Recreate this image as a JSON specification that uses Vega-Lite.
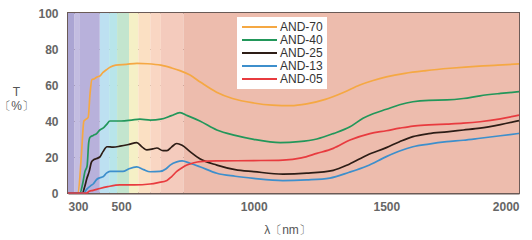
{
  "$schema": "https://vega.github.io/schema/vega-lite/v6.json",
  "width": 451,
  "height": 180,
  "autosize": {"type": "none"},
  "padding": {"left": 68, "top": 13, "right": 13, "bottom": 47},
  "background": "white",
  "config": {
    "font": "Liberation Sans",
    "view": {"stroke": "#6a5a56", "strokeWidth": 2},
    "axis": {"zindex": 1}
  },
  "datasets": {
    "bands": [
      {"band": "b01", "start": 300, "end": 325},
      {"band": "b02", "start": 325, "end": 345},
      {"band": "b03", "start": 345, "end": 420},
      {"band": "b04", "start": 420, "end": 455},
      {"band": "b05", "start": 455, "end": 485},
      {"band": "b06", "start": 485, "end": 530},
      {"band": "b07", "start": 530, "end": 565},
      {"band": "b08", "start": 565, "end": 610},
      {"band": "b09", "start": 610, "end": 650},
      {"band": "b10", "start": 650, "end": 735},
      {"band": "b11", "start": 735, "end": 2000}
    ],
    "curves": [
      {"series": "AND-70", "wl": 300, "T": 0},
      {"series": "AND-70", "wl": 338, "T": 0},
      {"series": "AND-70", "wl": 350, "T": 20},
      {"series": "AND-70", "wl": 360, "T": 40},
      {"series": "AND-70", "wl": 368, "T": 41},
      {"series": "AND-70", "wl": 376, "T": 42},
      {"series": "AND-70", "wl": 383, "T": 55},
      {"series": "AND-70", "wl": 390, "T": 63},
      {"series": "AND-70", "wl": 400, "T": 63.5},
      {"series": "AND-70", "wl": 410, "T": 64.5},
      {"series": "AND-70", "wl": 420, "T": 65},
      {"series": "AND-70", "wl": 432, "T": 67},
      {"series": "AND-70", "wl": 445, "T": 68.5},
      {"series": "AND-70", "wl": 460, "T": 70},
      {"series": "AND-70", "wl": 480, "T": 71},
      {"series": "AND-70", "wl": 520, "T": 71.5},
      {"series": "AND-70", "wl": 560, "T": 72},
      {"series": "AND-70", "wl": 600, "T": 71.8},
      {"series": "AND-70", "wl": 650, "T": 71},
      {"series": "AND-70", "wl": 690, "T": 69.5},
      {"series": "AND-70", "wl": 722, "T": 68},
      {"series": "AND-70", "wl": 760, "T": 65.5},
      {"series": "AND-70", "wl": 800, "T": 61.5},
      {"series": "AND-70", "wl": 860, "T": 56},
      {"series": "AND-70", "wl": 920, "T": 52.5},
      {"series": "AND-70", "wl": 1000, "T": 50},
      {"series": "AND-70", "wl": 1070, "T": 48.8},
      {"series": "AND-70", "wl": 1140, "T": 48.5},
      {"series": "AND-70", "wl": 1200, "T": 49.5},
      {"series": "AND-70", "wl": 1270, "T": 52},
      {"series": "AND-70", "wl": 1340, "T": 56},
      {"series": "AND-70", "wl": 1400, "T": 60},
      {"series": "AND-70", "wl": 1450, "T": 62.5},
      {"series": "AND-70", "wl": 1500, "T": 64.5},
      {"series": "AND-70", "wl": 1570, "T": 66.5},
      {"series": "AND-70", "wl": 1650, "T": 68},
      {"series": "AND-70", "wl": 1740, "T": 69.3},
      {"series": "AND-70", "wl": 1850, "T": 70.5},
      {"series": "AND-70", "wl": 1920, "T": 71},
      {"series": "AND-70", "wl": 2000, "T": 71.7},

      {"series": "AND-40", "wl": 300, "T": 0},
      {"series": "AND-40", "wl": 345, "T": 0},
      {"series": "AND-40", "wl": 355, "T": 5},
      {"series": "AND-40", "wl": 364, "T": 12},
      {"series": "AND-40", "wl": 372, "T": 15},
      {"series": "AND-40", "wl": 378, "T": 28},
      {"series": "AND-40", "wl": 383, "T": 31},
      {"series": "AND-40", "wl": 395, "T": 32},
      {"series": "AND-40", "wl": 408, "T": 33},
      {"series": "AND-40", "wl": 420, "T": 35},
      {"series": "AND-40", "wl": 432, "T": 36},
      {"series": "AND-40", "wl": 445, "T": 38},
      {"series": "AND-40", "wl": 458, "T": 40},
      {"series": "AND-40", "wl": 500, "T": 40},
      {"series": "AND-40", "wl": 540, "T": 40.5},
      {"series": "AND-40", "wl": 571, "T": 41},
      {"series": "AND-40", "wl": 610, "T": 40.5},
      {"series": "AND-40", "wl": 650, "T": 41},
      {"series": "AND-40", "wl": 690, "T": 43},
      {"series": "AND-40", "wl": 722, "T": 44.6},
      {"series": "AND-40", "wl": 750, "T": 43},
      {"series": "AND-40", "wl": 797, "T": 40},
      {"series": "AND-40", "wl": 861, "T": 35},
      {"series": "AND-40", "wl": 930, "T": 32},
      {"series": "AND-40", "wl": 1000, "T": 29.8},
      {"series": "AND-40", "wl": 1100, "T": 28},
      {"series": "AND-40", "wl": 1170, "T": 28.5},
      {"series": "AND-40", "wl": 1238, "T": 30},
      {"series": "AND-40", "wl": 1300, "T": 33},
      {"series": "AND-40", "wl": 1363, "T": 36.8},
      {"series": "AND-40", "wl": 1412, "T": 41.5},
      {"series": "AND-40", "wl": 1450, "T": 44},
      {"series": "AND-40", "wl": 1500, "T": 46.5},
      {"series": "AND-40", "wl": 1550, "T": 49},
      {"series": "AND-40", "wl": 1600, "T": 50.7},
      {"series": "AND-40", "wl": 1660, "T": 51.5},
      {"series": "AND-40", "wl": 1728, "T": 51.7},
      {"series": "AND-40", "wl": 1790, "T": 52.5},
      {"series": "AND-40", "wl": 1853, "T": 54},
      {"series": "AND-40", "wl": 1930, "T": 55.3},
      {"series": "AND-40", "wl": 2000, "T": 56.3},

      {"series": "AND-25", "wl": 300, "T": 0},
      {"series": "AND-25", "wl": 355, "T": 0},
      {"series": "AND-25", "wl": 362, "T": 3},
      {"series": "AND-25", "wl": 371, "T": 8},
      {"series": "AND-25", "wl": 380, "T": 12},
      {"series": "AND-25", "wl": 388, "T": 17},
      {"series": "AND-25", "wl": 395, "T": 18.3},
      {"series": "AND-25", "wl": 405, "T": 19},
      {"series": "AND-25", "wl": 420, "T": 20},
      {"series": "AND-25", "wl": 432, "T": 23},
      {"series": "AND-25", "wl": 447, "T": 25.7},
      {"series": "AND-25", "wl": 470, "T": 25.5},
      {"series": "AND-25", "wl": 496, "T": 26},
      {"series": "AND-25", "wl": 530, "T": 27},
      {"series": "AND-25", "wl": 559, "T": 28},
      {"series": "AND-25", "wl": 580, "T": 25.5},
      {"series": "AND-25", "wl": 597, "T": 24},
      {"series": "AND-25", "wl": 620, "T": 24.5},
      {"series": "AND-25", "wl": 635, "T": 25},
      {"series": "AND-25", "wl": 658, "T": 23.5},
      {"series": "AND-25", "wl": 673, "T": 23.5},
      {"series": "AND-25", "wl": 690, "T": 25.5},
      {"series": "AND-25", "wl": 710, "T": 27.5},
      {"series": "AND-25", "wl": 730, "T": 26.5},
      {"series": "AND-25", "wl": 760, "T": 23},
      {"series": "AND-25", "wl": 797, "T": 19},
      {"series": "AND-25", "wl": 861, "T": 15.5},
      {"series": "AND-25", "wl": 930, "T": 13},
      {"series": "AND-25", "wl": 1000, "T": 11.9},
      {"series": "AND-25", "wl": 1110, "T": 10.5},
      {"series": "AND-25", "wl": 1200, "T": 11},
      {"series": "AND-25", "wl": 1300, "T": 12.6},
      {"series": "AND-25", "wl": 1360, "T": 16},
      {"series": "AND-25", "wl": 1427, "T": 21},
      {"series": "AND-25", "wl": 1500, "T": 25.2},
      {"series": "AND-25", "wl": 1550, "T": 28.5},
      {"series": "AND-25", "wl": 1600, "T": 31.3},
      {"series": "AND-25", "wl": 1660, "T": 33},
      {"series": "AND-25", "wl": 1728, "T": 34},
      {"series": "AND-25", "wl": 1790, "T": 35},
      {"series": "AND-25", "wl": 1853, "T": 36},
      {"series": "AND-25", "wl": 1930, "T": 38},
      {"series": "AND-25", "wl": 2000, "T": 40.2},

      {"series": "AND-13", "wl": 300, "T": 0},
      {"series": "AND-13", "wl": 360, "T": 0},
      {"series": "AND-13", "wl": 370, "T": 2},
      {"series": "AND-13", "wl": 385, "T": 4},
      {"series": "AND-13", "wl": 395, "T": 5},
      {"series": "AND-13", "wl": 408, "T": 7.5},
      {"series": "AND-13", "wl": 420, "T": 8.5},
      {"series": "AND-13", "wl": 432, "T": 9},
      {"series": "AND-13", "wl": 445, "T": 11},
      {"series": "AND-13", "wl": 458, "T": 12},
      {"series": "AND-13", "wl": 480, "T": 12},
      {"series": "AND-13", "wl": 507, "T": 12},
      {"series": "AND-13", "wl": 530, "T": 13.5},
      {"series": "AND-13", "wl": 559, "T": 14.5},
      {"series": "AND-13", "wl": 585, "T": 13},
      {"series": "AND-13", "wl": 609, "T": 11.8},
      {"series": "AND-13", "wl": 647, "T": 12},
      {"series": "AND-13", "wl": 670, "T": 13.5},
      {"series": "AND-13", "wl": 685, "T": 15.5},
      {"series": "AND-13", "wl": 710, "T": 17.3},
      {"series": "AND-13", "wl": 730, "T": 17.8},
      {"series": "AND-13", "wl": 760, "T": 16.5},
      {"series": "AND-13", "wl": 797, "T": 14.6},
      {"series": "AND-13", "wl": 861, "T": 11},
      {"series": "AND-13", "wl": 930, "T": 9.3},
      {"series": "AND-13", "wl": 1000, "T": 8.1},
      {"series": "AND-13", "wl": 1110, "T": 6.9},
      {"series": "AND-13", "wl": 1200, "T": 7.3},
      {"series": "AND-13", "wl": 1287, "T": 8.3},
      {"series": "AND-13", "wl": 1360, "T": 11.5},
      {"series": "AND-13", "wl": 1427, "T": 15},
      {"series": "AND-13", "wl": 1500, "T": 20.2},
      {"series": "AND-13", "wl": 1550, "T": 23.3},
      {"series": "AND-13", "wl": 1600, "T": 25.7},
      {"series": "AND-13", "wl": 1660, "T": 27.2},
      {"series": "AND-13", "wl": 1728, "T": 28.5},
      {"series": "AND-13", "wl": 1790, "T": 29.3},
      {"series": "AND-13", "wl": 1853, "T": 30.4},
      {"series": "AND-13", "wl": 1930, "T": 31.8},
      {"series": "AND-13", "wl": 2000, "T": 33.1},

      {"series": "AND-05", "wl": 300, "T": 0},
      {"series": "AND-05", "wl": 370, "T": 0},
      {"series": "AND-05", "wl": 380, "T": 1},
      {"series": "AND-05", "wl": 395, "T": 1.5},
      {"series": "AND-05", "wl": 420, "T": 2.5},
      {"series": "AND-05", "wl": 450, "T": 3.5},
      {"series": "AND-05", "wl": 496, "T": 4.5},
      {"series": "AND-05", "wl": 550, "T": 4.5},
      {"series": "AND-05", "wl": 609, "T": 5},
      {"series": "AND-05", "wl": 640, "T": 5.8},
      {"series": "AND-05", "wl": 673, "T": 7},
      {"series": "AND-05", "wl": 690, "T": 9},
      {"series": "AND-05", "wl": 710, "T": 12},
      {"series": "AND-05", "wl": 730, "T": 14},
      {"series": "AND-05", "wl": 748, "T": 15.5},
      {"series": "AND-05", "wl": 775, "T": 16.8},
      {"series": "AND-05", "wl": 797, "T": 17.4},
      {"series": "AND-05", "wl": 860, "T": 17.8},
      {"series": "AND-05", "wl": 1000, "T": 18},
      {"series": "AND-05", "wl": 1110, "T": 18.3},
      {"series": "AND-05", "wl": 1180, "T": 19.5},
      {"series": "AND-05", "wl": 1238, "T": 22},
      {"series": "AND-05", "wl": 1300, "T": 24.8},
      {"series": "AND-05", "wl": 1363, "T": 29.4},
      {"series": "AND-05", "wl": 1438, "T": 33},
      {"series": "AND-05", "wl": 1500, "T": 34.6},
      {"series": "AND-05", "wl": 1550, "T": 36},
      {"series": "AND-05", "wl": 1600, "T": 37.2},
      {"series": "AND-05", "wl": 1660, "T": 37.8},
      {"series": "AND-05", "wl": 1728, "T": 38.3},
      {"series": "AND-05", "wl": 1790, "T": 38.8},
      {"series": "AND-05", "wl": 1853, "T": 39.6},
      {"series": "AND-05", "wl": 1930, "T": 41.2},
      {"series": "AND-05", "wl": 2000, "T": 43.3}
    ]
  },
  "encoding": {
    "x": {
      "type": "quantitative",
      "scale": {"domain": [300, 2000], "nice": false, "zero": false},
      "axis": {
        "title": "λ〔nm〕",
        "values": [300, 500, 1000, 1500, 2000],
        "format": "d",
        "grid": true,
        "gridColor": "#6e5c58",
        "gridOpacity": 1,
        "gridWidth": 1,
        "ticks": false,
        "domain": true,
        "domainColor": "#6a5a56",
        "domainWidth": 2,
        "labelPadding": 8,
        "labelFontSize": 12,
        "labelFontWeight": "bold",
        "labelColor": "#666666",
        "titleFontSize": 12,
        "titleFontWeight": "normal",
        "titleColor": "#555555",
        "titleX": 219,
        "titleY": 36,
        "titleBaseline": "middle"
      }
    },
    "y": {
      "type": "quantitative",
      "scale": {"domain": [0, 100], "nice": false},
      "axis": {
        "title": ["T", "〔%〕"],
        "values": [0, 20, 40, 60, 80, 100],
        "grid": true,
        "gridColor": "#6e5c58",
        "gridOpacity": 1,
        "gridWidth": 1,
        "ticks": false,
        "domain": true,
        "domainColor": "#6a5a56",
        "domainWidth": 2,
        "labelPadding": 10,
        "labelFontSize": 12,
        "labelFontWeight": "bold",
        "labelColor": "#666666",
        "titleFontSize": 12,
        "titleFontWeight": "normal",
        "titleColor": "#555555",
        "titleAngle": 0,
        "titleAlign": "center",
        "titleBaseline": "middle",
        "titleX": -52,
        "titleY": 78,
        "titleLineHeight": 14
      }
    }
  },
  "layer": [
    {
      "data": {"name": "bands"},
      "mark": {"type": "rect"},
      "encoding": {
        "x": {"field": "start", "type": "quantitative"},
        "x2": {"field": "end"},
        "fill": {
          "field": "band",
          "type": "nominal",
          "legend": null,
          "scale": {
            "domain": ["b01", "b02", "b03", "b04", "b05", "b06", "b07", "b08", "b09", "b10", "b11"],
            "range": ["#aba5d3", "#c3bde1", "#b8b1db", "#bde0f1", "#b8e5ea", "#c3e5ce", "#f5f0c6", "#fbe0c3", "#f9d6c3", "#f4cbbd", "#edbcad"]
          }
        }
      }
    },
    {
      "data": {"name": "curves"},
      "mark": {"type": "line", "strokeWidth": 1.7, "interpolate": "monotone"},
      "encoding": {
        "x": {"field": "wl", "type": "quantitative"},
        "y": {"field": "T", "type": "quantitative"},
        "color": {
          "field": "series",
          "type": "nominal",
          "scale": {
            "domain": ["AND-70", "AND-40", "AND-25", "AND-13", "AND-05"],
            "range": ["#f5a843", "#22975a", "#2d1d16", "#3d8fcc", "#e83b3f"]
          },
          "legend": {
            "title": null,
            "orient": "none",
            "legendX": 169,
            "legendY": 4,
            "fillColor": "white",
            "padding": 4,
            "symbolType": "M-1,0L6,0",
            "symbolSize": 100,
            "symbolStrokeWidth": 2,
            "labelOffset": 27,
            "labelFontSize": 12,
            "labelColor": "#333333",
            "rowPadding": 1
          }
        }
      }
    }
  ]
}
